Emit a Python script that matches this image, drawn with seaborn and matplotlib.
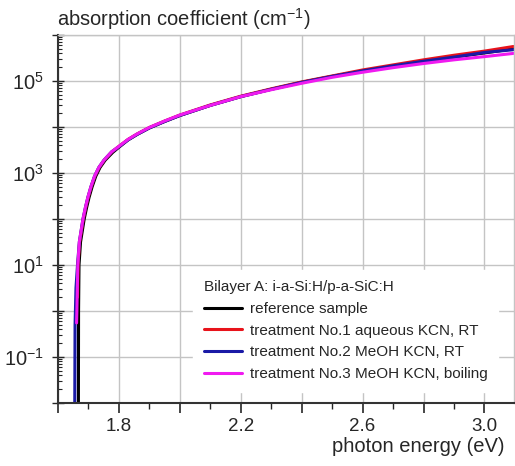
import numpy as np
import pandas as pd
import seaborn as sns
import matplotlib.pyplot as plt
from matplotlib.ticker import FixedLocator, FuncFormatter, LogLocator, MultipleLocator

# photon energy (eV) and log10 of absorption coefficient (cm^-1)
e_black = [1.667, 1.6675, 1.669, 1.674, 1.686, 1.694, 1.702, 1.712, 1.724, 1.738, 1.755,
           1.78, 1.80, 1.83, 1.86, 1.90, 1.95, 2.00, 2.10, 2.20, 2.30, 2.40, 2.50, 2.60,
           2.70, 2.80, 2.90, 3.00, 3.095]
lg_black = [-2.0, 0.0, 1.0, 1.5, 2.0, 2.25, 2.47, 2.70, 2.93, 3.12, 3.28,
            3.45, 3.56, 3.72, 3.84, 3.98, 4.12, 4.25, 4.47, 4.66, 4.82, 4.97, 5.10, 5.22,
            5.33, 5.43, 5.52, 5.61, 5.70]

e_red = [1.664, 1.6655, 1.671, 1.683, 1.691, 1.699, 1.709, 1.721, 1.735, 1.752,
         1.777, 1.80, 1.83, 1.86, 1.90, 1.95, 2.00, 2.10, 2.20, 2.30, 2.40, 2.50, 2.60,
         2.70, 2.80, 2.90, 3.00, 3.095]
lg_red = [0.3, 1.0, 1.5, 2.0, 2.25, 2.47, 2.70, 2.93, 3.12, 3.28,
          3.46, 3.58, 3.73, 3.85, 3.99, 4.13, 4.26, 4.48, 4.67, 4.83, 4.98, 5.11, 5.24,
          5.35, 5.46, 5.56, 5.65, 5.75]

e_blue = [1.655, 1.656, 1.659, 1.664, 1.670, 1.682, 1.690, 1.698, 1.708, 1.720, 1.734,
          1.751, 1.776, 1.80, 1.83, 1.86, 1.90, 1.95, 2.00, 2.10, 2.20, 2.30, 2.40, 2.50,
          2.60, 2.70, 2.80, 2.90, 3.00, 3.095]
lg_blue = [-2.0, -0.3, 0.5, 1.0, 1.5, 2.0, 2.25, 2.47, 2.70, 2.93, 3.12,
           3.28, 3.46, 3.57, 3.72, 3.84, 3.98, 4.12, 4.25, 4.47, 4.66, 4.82, 4.97, 5.10,
           5.22, 5.33, 5.43, 5.52, 5.62, 5.68]

e_mag = [1.661, 1.662, 1.665, 1.670, 1.682, 1.690, 1.698, 1.708, 1.720, 1.734, 1.751,
         1.776, 1.80, 1.83, 1.86, 1.90, 1.95, 2.00, 2.10, 2.20, 2.30, 2.40, 2.50, 2.60,
         2.70, 2.80, 2.90, 3.00, 3.095]
lg_mag = [-0.26, 0.0, 1.0, 1.5, 2.0, 2.25, 2.47, 2.70, 2.93, 3.12, 3.28,
          3.46, 3.58, 3.73, 3.85, 3.99, 4.13, 4.26, 4.47, 4.66, 4.81, 4.95, 5.08, 5.19,
          5.29, 5.38, 5.46, 5.53, 5.60]

labels = ["reference sample", "treatment No.1 aqueous KCN, RT",
          "treatment No.2 MeOH KCN, RT", "treatment No.3 MeOH KCN, boiling"]
colors = ["#000000", "#e8131b", "#1a1aa6", "#f01af0"]

series = [(e_black, lg_black), (e_red, lg_red), (e_blue, lg_blue), (e_mag, lg_mag)]
frames = []
for lab, (e, lg) in zip(labels, series):
    frames.append(pd.DataFrame({"energy": e, "alpha": 10.0 ** np.array(lg), "sample": lab}))
df = pd.concat(frames, ignore_index=True)

sns.set_style("white")
plt.rcParams["font.family"] = ["Liberation Sans", "DejaVu Sans"]
plt.rcParams["mathtext.fontset"] = "custom"
plt.rcParams["mathtext.rm"] = "Liberation Sans"
plt.rcParams["mathtext.it"] = "Liberation Sans"
plt.rcParams["axes.unicode_minus"] = False

fig = plt.figure(figsize=(5.15, 4.66), dpi=100)
ax = fig.add_axes([58 / 515, 63 / 466, 456 / 515, 368 / 466])

sns.lineplot(data=df, x="energy", y="alpha", hue="sample", palette=dict(zip(labels, colors)),
             sort=False, estimator=None, linewidth=2.2, ax=ax, legend=False)

ax.set_yscale("log")
ax.set_xlim(1.6, 3.097)
ax.set_ylim(1e-2, 1e6)

# y: gridline each decade, label only odd exponents
ax.yaxis.set_major_locator(FixedLocator([10.0 ** k for k in range(-2, 7)]))
ax.yaxis.set_major_formatter(FuncFormatter(
    lambda v, p: r"$10^{%d}$" % round(np.log10(v)) if round(np.log10(v)) % 2 else ""))
ax.yaxis.set_minor_locator(LogLocator(base=10, subs=np.arange(2, 10), numticks=20))
ax.yaxis.set_minor_formatter(FuncFormatter(lambda v, p: ""))

ax.xaxis.set_major_locator(MultipleLocator(0.2))
ax.xaxis.set_major_formatter(FuncFormatter(
    lambda v, p: "%.1f" % v if abs((v - 1.8) / 0.4 - round((v - 1.8) / 0.4)) < 1e-6 else ""))
ax.xaxis.set_minor_locator(MultipleLocator(0.1))

ax.grid(True, which="major", color="#c4c4c4", linewidth=1)
ax.tick_params(axis="y", which="major", direction="inout", length=8, width=1, labelsize=14.5,
               pad=6, left=True)
ax.tick_params(axis="y", which="minor", direction="in", length=3, width=0.8, left=True)
ax.tick_params(axis="x", which="major", direction="out", length=7, width=1.2, labelsize=13.5,
               bottom=True)
ax.tick_params(axis="x", which="minor", direction="out", length=4, width=1, bottom=True)
for s in ["left", "bottom"]:
    ax.spines[s].set_color("#333333")
    ax.spines[s].set_linewidth(1.5)
for s in ["top", "right"]:
    ax.spines[s].set_color("#c4c4c4")
    ax.spines[s].set_linewidth(1)

ax.set_xlabel("")
ax.set_ylabel("")
fig.text(57 / 515, 1 - 19 / 466, "absorption coefficient (cm$^{-1}$)", fontsize=14.5,
         ha="left", va="center")
fig.text(504 / 515, 1 - 447 / 466, "photon energy (eV)", fontsize=14.5, ha="right", va="center")

handles = [plt.Line2D([], [], color=c, linewidth=2.2) for c in colors]
leg = ax.legend(handles, labels, title="Bilayer A: i-a-Si:H/p-a-SiC:H", loc="lower right",
                bbox_to_anchor=(0.982, 0.01), fontsize=11, title_fontsize=11,
                frameon=True, framealpha=1, edgecolor="white", fancybox=False,
                alignment="left", handlelength=2.5, handletextpad=0.5, labelspacing=0.5,
                borderpad=0.7)

fig.savefig("out.png", dpi=100)
